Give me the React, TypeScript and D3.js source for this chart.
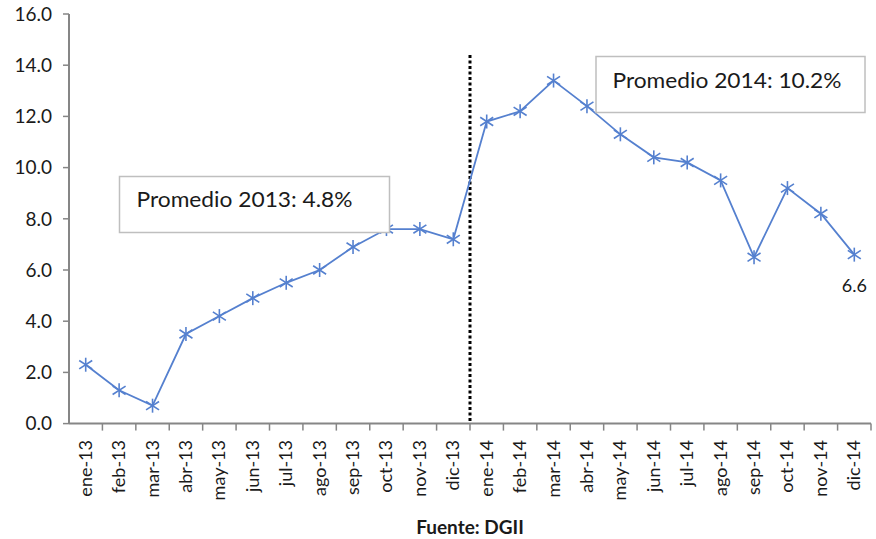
import React from "react";
import * as d3 from "d3";

const categories = [
  "ene-13","feb-13","mar-13","abr-13","may-13","jun-13","jul-13","ago-13","sep-13","oct-13","nov-13","dic-13",
  "ene-14","feb-14","mar-14","abr-14","may-14","jun-14","jul-14","ago-14","sep-14","oct-14","nov-14","dic-14",
];
const values = [
  2.3, 1.3, 0.7, 3.5, 4.2, 4.9, 5.5, 6.0, 6.9, 7.6, 7.6, 7.2,
  11.8, 12.2, 13.4, 12.4, 11.3, 10.4, 10.2, 9.5, 6.5, 9.2, 8.2, 6.6,
];
const yTicks = [0, 2, 4, 6, 8, 10, 12, 14, 16];
const avg2013Label = "Promedio 2013: 4.8%";
const avg2014Label = "Promedio 2014: 10.2%";
const sourceLabel = "Fuente: DGII";
const splitCategory = "ene-14";
const lastLabel = "6.6";

const W = 876, H = 539;
const left = 69, right = 871, top = 14, bottom = 423.6;
const FONT = "Lato, 'Open Sans', sans-serif";
const AXIS = "#868686";
const LINE = "#5580cf";

export default function App() {
  const x = d3.scaleBand<string>().domain(categories).range([left, right]);
  const y = d3.scaleLinear().domain([0, 16]).range([bottom, top]);
  const cx = (c: string) => (x(c) as number) + x.bandwidth() / 2;
  const line = d3.line<number>().x((_, i) => cx(categories[i])).y((v) => y(v));
  const splitX = x(splitCategory) as number;
  const star = (px: number, py: number, k: number) => {
    const r = 7;
    const d = 6.5;
    return (
      <g key={k} stroke={LINE} strokeWidth={1.6}>
        <line x1={px} y1={py - r} x2={px} y2={py + r} />
        <line x1={px - d} y1={py - d * 0.65} x2={px + d} y2={py + d * 0.65} />
        <line x1={px - d} y1={py + d * 0.65} x2={px + d} y2={py - d * 0.65} />
      </g>
    );
  };
  const lastI = values.length - 1;
  return (
    <svg width={W} height={H} style={{ position: "absolute", left: 0, top: 0, background: "#fff" }} fontFamily={FONT}>
      <rect width={W} height={H} fill="#fff" />
      {/* y axis */}
      <line x1={left} y1={top} x2={left} y2={bottom} stroke={AXIS} strokeWidth={2} />
      {yTicks.map((t) => (
        <g key={t}>
          <line x1={left - 6} x2={left} y1={y(t)} y2={y(t)} stroke={AXIS} strokeWidth={1.5} />
          <text x={52} y={y(t)} dy="0.36em" textAnchor="end" fontSize={19} fill="#1a1a1a">
            {t.toFixed(1)}
          </text>
        </g>
      ))}
      {/* x axis */}
      <line x1={left} y1={bottom} x2={right} y2={bottom} stroke={AXIS} strokeWidth={2} />
      {categories.map((c, i) => (
        <line key={"t" + i} x1={(x(c) as number) + x.bandwidth()} x2={(x(c) as number) + x.bandwidth()} y1={bottom} y2={bottom + 7} stroke={AXIS} strokeWidth={1.5} />
      ))}
      {categories.map((c) => (
        <text key={"l" + c} transform={`translate(${cx(c) + 6},${440}) rotate(-90)`} textAnchor="end" fontSize={18} fill="#1a1a1a">
          {c}
        </text>
      ))}
      {/* dotted divider */}
      <line x1={splitX} x2={splitX} y1={55} y2={bottom} stroke="#000" strokeWidth={3} strokeDasharray="3 2.5" />
      {/* series */}
      <path d={line(values) || ""} fill="none" stroke={LINE} strokeWidth={1.8} />
      {values.map((v, i) => star(cx(categories[i]), y(v), i))}
      <text x={cx(categories[lastI])} y={291.5} textAnchor="middle" fontSize={18} fill="#1a1a1a">{lastLabel}</text>
      {/* annotation boxes */}
      <rect x={119.5} y={176.5} width={270} height={56} fill="#fff" stroke="#bfbfbf" strokeWidth={1.5} />
      <text x={136.5} y={206.5} fontSize={21} fill="#1a1a1a" textLength={216} lengthAdjust="spacingAndGlyphs">{avg2013Label}</text>
      <rect x={596} y={56.5} width={269} height={56} fill="#fff" stroke="#bfbfbf" strokeWidth={1.5} />
      <text x={612.5} y={88.3} fontSize={21} fill="#1a1a1a" textLength={229} lengthAdjust="spacingAndGlyphs">{avg2014Label}</text>
      <text x={470} y={534} textAnchor="middle" fontSize={19} fontWeight="bold" fill="#1a1a1a">{sourceLabel}</text>
    </svg>
  );
}
